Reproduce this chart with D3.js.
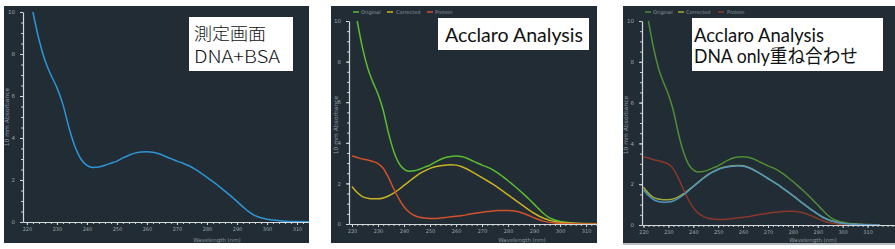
<!DOCTYPE html>
<html>
<head>
<meta charset="utf-8">
<script src="https://cdn.jsdelivr.net/npm/d3@7"></script>
<style>
  body { margin: 0; background: #ffffff; }
  svg { display: block; }
  .tick text { font-family: "DejaVu Sans", sans-serif; }
</style>
</head>
<body>
<div id="chart"></div>
<script>
// ---- data (wavelength nm, 10 mm absorbance) ----
var wavelengths = [222,224,226,228,230,232,234,236,238,240,242,244,246,248,250,252,254,256,258,260,
                   262,264,266,268,270,272,274,276,278,280,282,284,286,288,290,292,294,296,298,300,
                   302,304,306,310,315];
var original  = [10,8.7,7.7,7.0,6.4,5.6,4.5,3.6,3.0,2.7,2.6,2.62,2.7,2.8,2.9,3.05,3.18,3.28,3.33,3.35,
                 3.32,3.25,3.13,3.02,2.9,2.8,2.68,2.52,2.33,2.13,1.92,1.7,1.47,1.23,0.98,0.72,0.48,0.3,0.2,0.13,
                 0.09,0.06,0.04,0.02,0.01];

var wl2 = [220,222,224,226,228,230,232,234,236,238,240,242,244,246,248,250,252,254,256,258,260,
           262,264,266,268,270,272,274,276,278,280,282,284,286,288,290,292,294,296,298,300,
           302,304,306,310,315];
var corrected = [1.85,1.55,1.35,1.27,1.24,1.24,1.28,1.38,1.52,1.7,1.9,2.1,2.3,2.48,2.62,2.74,2.82,2.87,2.9,2.92,2.9,
                 2.83,2.72,2.58,2.43,2.28,2.13,1.98,1.8,1.62,1.44,1.25,1.06,0.88,0.7,0.53,0.38,0.27,0.18,0.12,0.08,
                 0.06,0.04,0.03,0.01,0];
var protein   = [3.35,3.28,3.2,3.15,3.08,2.98,2.75,2.3,1.75,1.25,0.85,0.58,0.42,0.33,0.29,0.27,0.27,0.29,0.32,0.36,0.38,
                 0.41,0.45,0.5,0.54,0.58,0.61,0.64,0.66,0.67,0.67,0.65,0.6,0.52,0.42,0.31,0.21,0.13,0.08,0.05,0.03,
                 0.02,0.01,0.01,0,0];
var dnaOnly   = [1.72,1.45,1.25,1.15,1.12,1.13,1.18,1.3,1.47,1.67,1.88,2.08,2.28,2.46,2.6,2.72,2.8,2.85,2.88,2.9,2.88,
                 2.82,2.71,2.58,2.43,2.28,2.13,1.98,1.8,1.62,1.44,1.25,1.06,0.88,0.7,0.53,0.38,0.27,0.18,0.12,0.08,
                 0.06,0.04,0.03,0.01,0];

var xTicks = [220,230,240,250,260,270,280,290,300,310];
var yTicks = [0,2,4,6,8,10];
var legendNames = ["Original", "Corrected", "Protein"];

function zip(xs, ys) { return xs.map(function(x, i) { return {x: x, y: ys[i]}; }); }

// panel layouts (pixels)
var panels = [
  { bg: [4, 6, 305, 237], xd: [218.7, 314], xr: [23, 309], yr: [222, 12], titleX: 7, titleY: 117, wlX: 217,
    series: [{d: zip(wavelengths, original), c: "#2e95d6"}],
    legend: null,
    box: {x: 189, y: 17, w: 104, h: 54, lines: ["測定画面", "DNA+BSA"], tx: 194, base: [40, 63], fs: 17,
          len: [72, 86], font: "'Noto Sans CJK JP', sans-serif", weight: 300} },
  { bg: [331, 6, 266, 237], xd: [218.85, 314.2], xr: [349, 597], yr: [224, 21], titleX: 336, titleY: 125, wlX: 522,
    series: [{d: zip(wavelengths, original), c: "#5cbd32"},
             {d: zip(wl2, corrected), c: "#c9b322"},
             {d: zip(wl2, protein), c: "#d2502b"}],
    legend: {y: 12, items: [[353, 361, "#5cbd32"], [387, 396, "#c9b322"], [427, 435, "#d2502b"]]},
    box: {x: 438, y: 18, w: 151, h: 32, lines: ["Acclaro Analysis"], tx: 445, base: [42], fs: 20, len: [138],
          font: "Lato, 'Open Sans', sans-serif", weight: 400} },
  { bg: [623, 6, 272, 237], xd: [219.4, 321], xr: [642, 895], yr: [225, 21], titleX: 626, titleY: 125, wlX: 813,
    series: [{d: zip(wavelengths, original), c: "#4f8e34"},
             {d: zip(wl2, corrected), c: "#a3a834"},
             {d: zip(wl2, protein), c: "#8a3828"},
             {d: zip(wl2, dnaOnly), c: "#4f93c0"}],
    legend: {y: 12, items: [[645, 653, "#4f8e34"], [678, 686, "#a3a834"], [718, 727, "#8a3828"]]},
    box: {x: 692, y: 18, w: 191, h: 53, lines: ["Acclaro Analysis", "DNA only重ね合わせ"], tx: 694, base: [42, 63], fs: 19,
          len: [130, 164], font: "Lato, 'Noto Sans CJK JP', sans-serif", weight: 400} }
];

var svg = d3.select("#chart").append("svg")
  .attr("width", 895)
  .attr("height", 249);

panels.forEach(function(p, pi) {
  var g = svg.append("g");

  g.append("rect")
    .attr("x", p.bg[0]).attr("y", p.bg[1])
    .attr("width", p.bg[2]).attr("height", p.bg[3])
    .attr("fill", "#212c35");

  var x = d3.scaleLinear().domain(p.xd).range(p.xr);
  var y = d3.scaleLinear().domain([0, 10]).range(p.yr);

  var minorX = d3.range(220, p.xd[1], 2);
  var minorY = d3.range(0, 10.01, 0.5);

  // minor ticks
  g.append("g")
    .attr("transform", "translate(0," + p.yr[0] + ")")
    .call(d3.axisBottom(x).tickValues(minorX).tickSize(2).tickSizeOuter(0).tickFormat(""))
    .call(function(a) { a.select(".domain").remove(); a.selectAll("line").attr("stroke", "#c9cfd3"); });
  g.append("g")
    .attr("transform", "translate(" + p.xr[0] + ",0)")
    .call(d3.axisLeft(y).tickValues(minorY).tickSize(2).tickSizeOuter(0).tickFormat(""))
    .call(function(a) { a.select(".domain").remove(); a.selectAll("line").attr("stroke", "#c9cfd3"); });

  // major axes
  g.append("g")
    .attr("transform", "translate(0," + p.yr[0] + ")")
    .call(d3.axisBottom(x).tickValues(xTicks).tickSize(3).tickSizeOuter(0).tickPadding(2))
    .call(function(a) {
      a.select(".domain").attr("stroke", "#d4d9dc").attr("stroke-width", 1.2);
      a.selectAll("line").attr("stroke", "#d4d9dc");
      a.selectAll("text").attr("fill", "#9aa4aa").style("font-size", "5px");
    });
  g.append("g")
    .attr("transform", "translate(" + p.xr[0] + ",0)")
    .call(d3.axisLeft(y).tickValues(yTicks).tickSize(3).tickSizeOuter(0).tickPadding(5))
    .call(function(a) {
      a.select(".domain").attr("stroke", "#d4d9dc").attr("stroke-width", 1.2);
      a.selectAll("line").attr("stroke", "#d4d9dc");
      a.selectAll("text").attr("fill", "#9aa4aa").style("font-size", "5.5px");
    });

  // axis titles
  g.append("text")
    .attr("transform", "translate(" + p.titleX + "," + p.titleY + ") rotate(-90)")
    .attr("text-anchor", "middle")
    .attr("dy", "0.35em")
    .attr("fill", "#8e989e")
    .style("font-family", "'DejaVu Sans', sans-serif")
    .style("font-size", "6px")
    .text("10 mm Absorbance");
  g.append("text")
    .attr("x", p.wlX).attr("y", 242)
    .attr("text-anchor", "middle")
    .attr("fill", "#8e989e")
    .style("font-family", "'DejaVu Sans', sans-serif")
    .style("font-size", "5.5px")
    .text("Wavelength (nm)");

  // curves
  var clipId = "clip" + pi;
  g.append("clipPath").attr("id", clipId)
    .append("rect")
    .attr("x", p.xr[0]).attr("y", p.yr[1] - 1)
    .attr("width", p.xr[1] - p.xr[0]).attr("height", p.yr[0] - p.yr[1] + 1);

  var line = d3.line()
    .x(function(d) { return x(d.x); })
    .y(function(d) { return y(d.y); })
    .curve(d3.curveMonotoneX);

  g.append("g").attr("clip-path", "url(#" + clipId + ")")
    .selectAll("path")
    .data(p.series)
    .enter().append("path")
    .attr("d", function(s) { return line(s.d); })
    .attr("fill", "none")
    .attr("stroke", function(s) { return s.c; })
    .attr("stroke-width", 1.5);

  // legend
  if (p.legend) {
    var lg = g.selectAll(".leg")
      .data(p.legend.items)
      .enter().append("g");
    lg.append("line")
      .attr("x1", function(d) { return d[0]; })
      .attr("x2", function(d) { return d[0] + 6; })
      .attr("y1", p.legend.y).attr("y2", p.legend.y)
      .attr("stroke", function(d) { return d[2]; })
      .attr("stroke-width", 1.5);
    lg.append("text")
      .attr("x", function(d) { return d[1]; })
      .attr("y", p.legend.y)
      .attr("dy", "0.35em")
      .attr("fill", "#8e989e")
      .style("font-family", "'DejaVu Sans', sans-serif")
      .style("font-size", "5px")
      .text(function(d, i) { return legendNames[i]; });
  }

  // annotation box
  var b = p.box;
  g.append("rect")
    .attr("x", b.x).attr("y", b.y)
    .attr("width", b.w).attr("height", b.h)
    .attr("fill", "#ffffff");
  b.lines.forEach(function(t, i) {
    var tx = g.append("text")
      .attr("x", b.tx).attr("y", b.base[i])
      .attr("fill", "#111111")
      .style("font-family", b.font)
      .style("font-weight", b.weight)
      .style("font-size", b.fs + "px")
      .text(t);
    if (b.len) tx.attr("textLength", b.len[i]).attr("lengthAdjust", "spacingAndGlyphs");
  });
});

// thin grey edge under the last screenshot
svg.append("rect")
  .attr("x", 623).attr("y", 243)
  .attr("width", 272).attr("height", 2)
  .attr("fill", "#b9bdc0");
</script>
</body>
</html>
